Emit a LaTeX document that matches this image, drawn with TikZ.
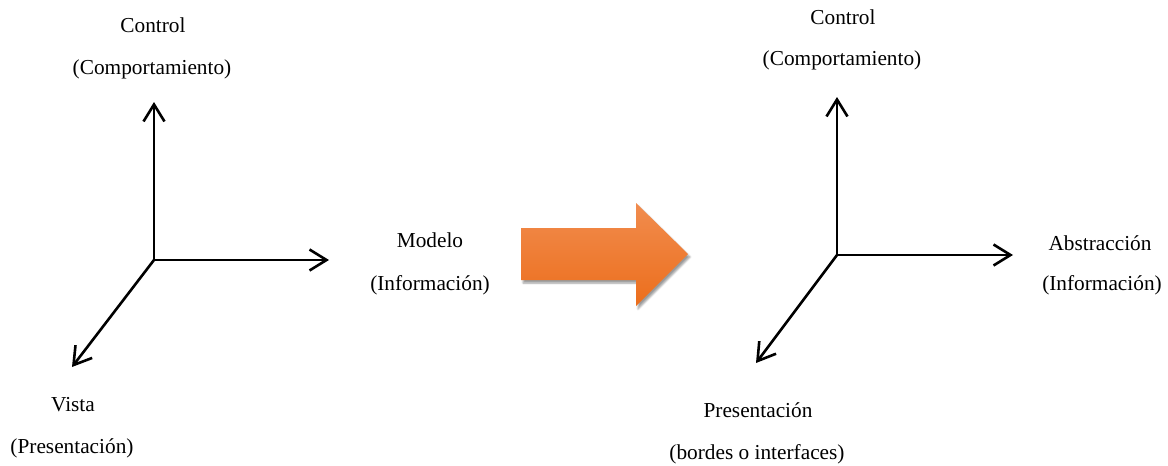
\documentclass[tikz,border=0pt]{standalone}
\usepackage{fontspec}
\setmainfont{Liberation Serif}
\usetikzlibrary{arrows.meta,shadows.blur}
\definecolor{orTop}{RGB}{241,140,78}
\definecolor{orBot}{RGB}{236,110,28}
\tikzset{
  lbl/.style={inner sep=0pt, font=\fontsize{21.3}{25}\selectfont, text=black},
  axis/.style={line width=2.6pt, -{Straight Barb[length=17pt,width=21pt,line width=2.6pt]}, line cap=butt},
}
\begin{document}
\begin{tikzpicture}[x=1pt,y=-1pt]
\useasboundingbox (0,0) rectangle (1168,466);
% left axes
\coordinate (o1) at (154,260);
\coordinate (u1) at (154,102);
\coordinate (r1) at (329,260);
\coordinate (d1) at (72,367);
\draw[axis] (o1) -- (u1);
\draw[axis] (o1) -- (r1);
\draw[axis] (o1) -- (d1);
\node[lbl] (c1a) at (153,25) {Control};
\node[lbl] (c1b) at (152,69) {(Comportamiento)};
\node[lbl] (m1a) at (430,240) {Modelo};
\node[lbl] (m1b) at (430,285) {(Información)};
\node[lbl] (v1a) at (73,405) {Vista};
\node[lbl] (v1b) at (72,448) {(Presentación)};
% right axes
\coordinate (o2) at (837,255);
\coordinate (u2) at (837,97);
\coordinate (r2) at (1013,255);
\coordinate (d2) at (756,363);
\draw[axis] (o2) -- (u2);
\draw[axis] (o2) -- (r2);
\draw[axis] (o2) -- (d2);
\node[lbl] (c2a) at (843,17) {Control};
\node[lbl] (c2b) at (842,60) {(Comportamiento)};
\node[lbl] (a2a) at (1100,243) {Abstracción};
\node[lbl] (a2b) at (1102,285) {(Información)};
\node[lbl] (p2a) at (758,410) {Presentación};
\node[lbl] (p2b) at (757,454) {(bordes o interfaces)};
% big orange arrow
\path[top color=orTop, bottom color=orBot,
  blur shadow={shadow xshift=2pt, shadow yshift=-3pt, shadow blur steps=6, shadow opacity=40}]
  (521,228) -- (636,228) -- (636,203) -- (688,254) -- (636,306) -- (636,280) -- (521,280) -- cycle;
\end{tikzpicture}
\end{document}
